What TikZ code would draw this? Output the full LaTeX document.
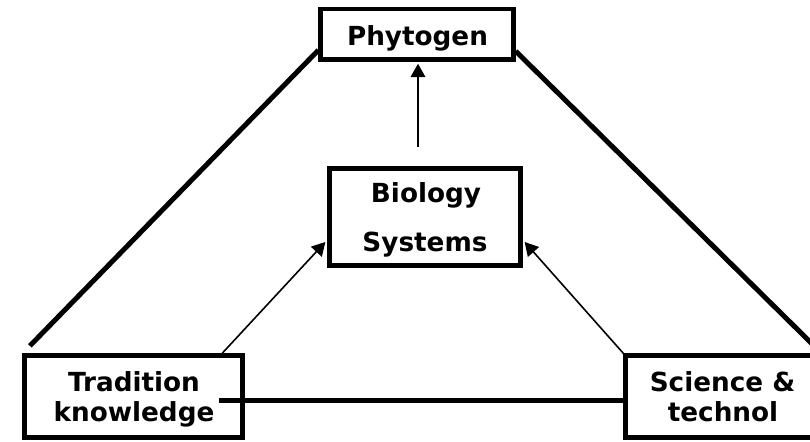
\documentclass[tikz,border=0pt]{standalone}
\usepackage{fontspec}
\setmainfont{DejaVu Sans}
\usetikzlibrary{arrows.meta,calc}
\begin{document}
\begin{tikzpicture}[x=0.75pt,y=-0.75pt,
  box/.style={draw,line width=3.2pt,rectangle,inner sep=0pt},
  lbl/.style={anchor=base,inner sep=0pt,font=\fontsize{19.7pt}{24pt}\selectfont\bfseries},
  heavy/.style={line width=3.75pt},
  arr/.style={line width=1.2pt,-{Triangle[length=10pt,width=11pt]}}]
\useasboundingbox (0,0) rectangle (810,442);
\clip (0,0) rectangle (810,442);
% boxes
\node[box,minimum width=193*0.75pt,minimum height=50.5*0.75pt] (phyt) at (417,34.25) {};
\node[box,minimum width=191*0.75pt,minimum height=97*0.75pt] (biol) at (425,217) {};
\node[box,minimum width=218*0.75pt,minimum height=82*0.75pt] (trad) at (133.5,396.5) {};
\node[box,minimum width=194*0.75pt,minimum height=82*0.75pt] (sci) at (722.5,396.5) {};
% texts
\node[lbl] (phytT) at ($(phyt.center)+(0.5,11)$) {Phytogen};
\node[lbl] (biolT1) at ($(biol.center)+(1,-14)$) {Biology};
\node[lbl] (biolT2) at ($(biol.center)+(0,34.5)$) {Systems};
\node[lbl] (tradT1) at ($(trad.center)+(0.5,-4.8)$) {Tradition};
\node[lbl] (tradT2) at ($(trad.center)+(0.5,25.2)$) {knowledge};
\node[lbl] (sciT1) at ($(sci.center)+(0,-4.8)$) {Science \&};
\node[lbl] (sciT2) at ($(sci.center)+(0.5,25.2)$) {technol};
% heavy lines
\draw[heavy] ($(phyt.south west)+(0,-11.5)$) -- ($(trad.north west)+(7.5,-7.5)$);
\draw[heavy] ($(phyt.south east)+(0,-10.5)$) -- ($(sci.north east)+(-7.5,-7.5)$);
\draw[heavy] ($(trad.east)+(-25.5,3.5)$) -- ($(sci.west)+(0,3.5)$);
% arrows
\coordinate (vstart) at (418,147);
\draw[arr,shorten >=1.6pt] (vstart) -- (vstart |- phyt.south);
\draw[arr] ($(trad.north east)+(-22.5,0)$) -- ($(biol.west)+(-2,25)$);
\draw[arr] (sci.north west) -- ($(biol.east)+(2,25)$);
\end{tikzpicture}
\end{document}
